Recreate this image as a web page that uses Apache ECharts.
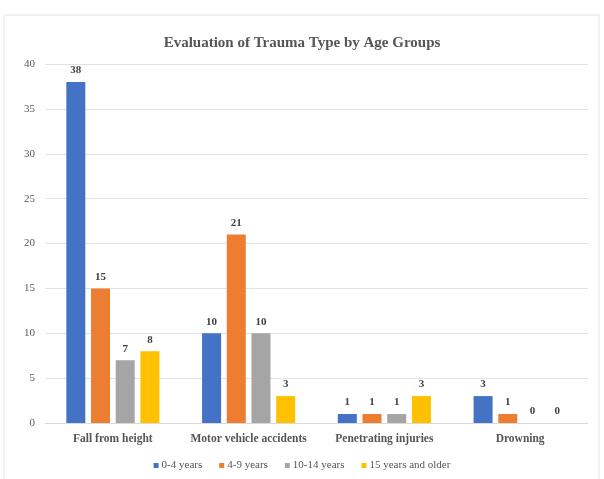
<!DOCTYPE html>
<html>
<head>
<meta charset="utf-8">
<script src="https://cdn.jsdelivr.net/npm/echarts@6/dist/echarts.min.js"></script>
<style>
  html, body { margin: 0; padding: 0; background: #fff; }
  #chart { width: 604px; height: 479px; }
</style>
</head>
<body>
<div id="chart"></div>
<script>
// Trauma type counts per age group
const categories = ['Fall from height', 'Motor vehicle accidents', 'Penetrating injuries', 'Drowning'];
const age0to4 = [38, 10, 1, 3];
const age4to9 = [15, 21, 1, 1];
const age10to14 = [7, 10, 1, 0];
const age15plus = [8, 3, 3, 0];
const seriesNames = ['0-4 years', '4-9 years', '10-14 years', '15 years and older'];
const yTicks = [0, 5, 10, 15, 20, 25, 30, 35, 40];

const colors = ['#4472C4', '#ED7D31', '#A5A5A5', '#FFC000'];
const serif = '"Liberation Serif", "DejaVu Serif", serif';

const chart = echarts.init(document.getElementById('chart'), null, { renderer: 'canvas' });

const seriesData = [age0to4, age4to9, age10to14, age15plus];

chart.setOption({
  animation: false,
  color: colors,
  textStyle: { fontFamily: serif },
  graphic: [{
    type: 'rect',
    shape: { x: 4, y: 15, width: 595, height: 470 },
    style: { fill: 'none', stroke: '#e4e4e4', lineWidth: 1 },
    silent: true
  }],
  title: {
    text: 'Evaluation of Trauma Type by Age Groups',
    left: 'center',
    top: 31,
    textStyle: { fontFamily: serif, fontSize: 15, fontWeight: 'bold', color: '#555' }
  },
  legend: {
    bottom: 3,
    left: 'center',
    itemWidth: 5,
    itemHeight: 5,
    itemGap: 17,
    icon: 'rect',
    textStyle: { fontFamily: serif, fontSize: 11, color: '#555', padding: [0, 0, 0, -2] },
    data: seriesNames
  },
  grid: { left: 45, right: 16, top: 64, bottom: 56, containLabel: false },
  xAxis: {
    type: 'category',
    data: categories,
    axisLine: { lineStyle: { color: '#d9d9d9' } },
    axisTick: { show: false },
    axisLabel: { interval: 0, fontFamily: serif, fontSize: 11.5, fontWeight: 'bold', color: '#555', margin: 10 }
  },
  yAxis: {
    type: 'value',
    min: yTicks[0],
    max: yTicks[yTicks.length - 1],
    interval: 5,
    axisLine: { show: false },
    axisTick: { show: false },
    splitLine: { lineStyle: { color: '#e3e3e3' } },
    axisLabel: { fontFamily: serif, fontSize: 11, color: '#595959', margin: 10 }
  },
  series: seriesData.map((d, i) => ({
    name: seriesNames[i],
    type: 'bar',
    data: d,
    barWidth: 19,
    barGap: '30%',
    label: {
      show: true,
      position: 'top',
      distance: 6,
      fontFamily: serif,
      fontSize: 11,
      fontWeight: 'bold',
      color: '#404040'
    }
  }))
});
</script>
</body>
</html>
